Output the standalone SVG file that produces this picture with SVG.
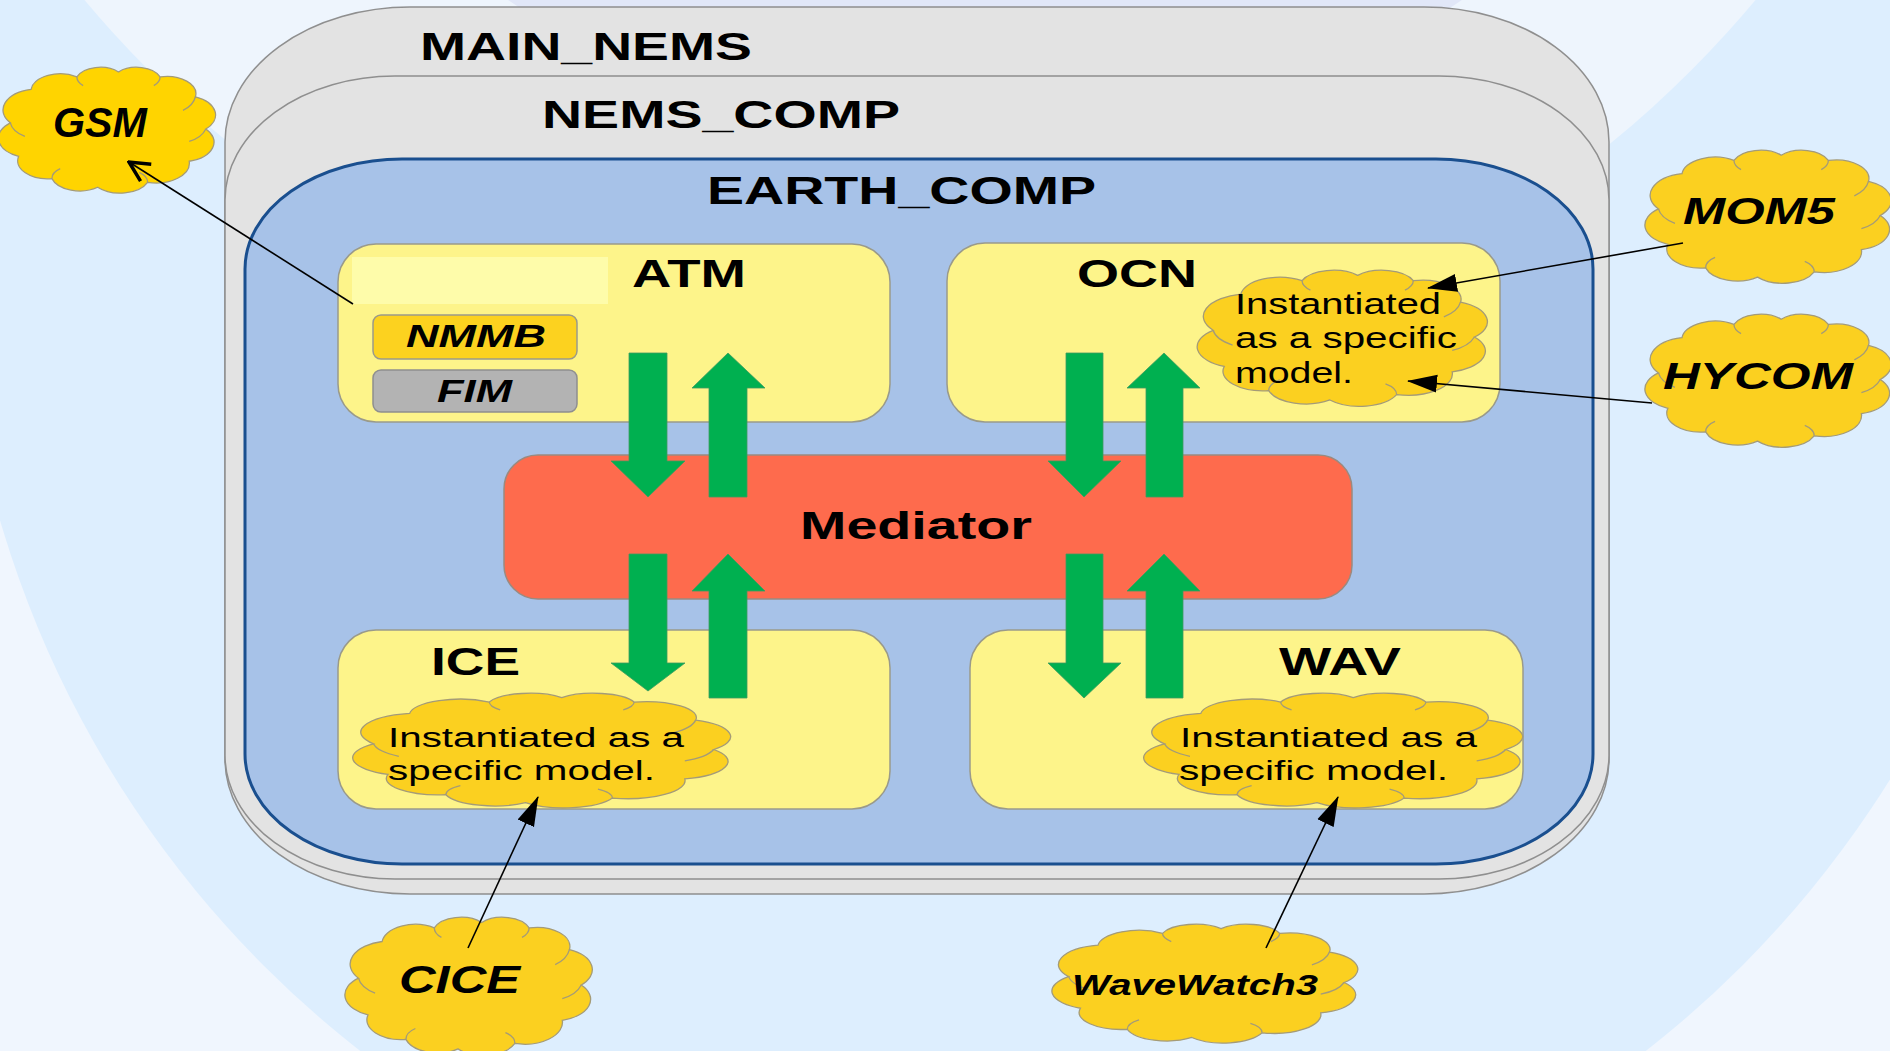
<svg xmlns="http://www.w3.org/2000/svg" xmlns:xlink="http://www.w3.org/1999/xlink" width="1890" height="1051" viewBox="0 0 1890 1051">
<style>
.lbl{font-family:"Liberation Sans",Arial,sans-serif;font-weight:bold;fill:#000}
.big{font-size:39px}
.it{font-style:italic}
.body{font-family:"Liberation Sans",Arial,sans-serif;font-weight:normal;fill:#000}
.cont{fill:#e3e3e3;stroke:#8f8f8f;stroke-width:1.5}
.box{fill:#fdf48a;stroke:#9a9a8a;stroke-width:1.5}
.cloud{fill:#fbd020;stroke:#a49b78;stroke-width:1.3}
.garrow{fill:#00b050;stroke:#3f9a5f;stroke-width:0.8}
.conn{stroke:#000;stroke-width:1.6;fill:none}
</style>
<defs>
<g id="cloudShape">
<path vector-effect="non-scaling-stroke" d="M4,45 A17,17 0 0 1 14,18 A14,14 0 0 1 36,8 A12,12 0 0 1 56,4 A12,12 0 0 1 76,8 A14,14 0 0 1 93,24 A16,16 0 0 1 98,50 A16,16 0 0 1 90,76 A16,16 0 0 1 70,93 A14.5,14.5 0 0 1 46,97 A14,14 0 0 1 24,90 A14.5,14.5 0 0 1 8,72 A16,16 0 0 1 4,45 Z"/>
<path vector-effect="non-scaling-stroke" fill="none" d="M4,45 Q5,52 11,56 M93,24 Q92,31 87,35 M98,50 Q96,57 90,60 M24,90 Q24,85 28,82 M70,93 Q70,88 66,85 M36,8 Q36,12 39,15 M76,8 Q76,12 73,15"/>
</g>
<marker id="tri" markerUnits="userSpaceOnUse" markerWidth="30" markerHeight="20" viewBox="0 0 30 20" refX="29" refY="10" orient="auto">
<path d="M0,1 L30,10 L0,19 Z" fill="#000"/>
</marker>
<marker id="vee" markerUnits="userSpaceOnUse" markerWidth="26" markerHeight="26" viewBox="0 0 26 26" refX="24" refY="13" orient="auto">
<path d="M4,3 L24,13 L4,23" fill="none" stroke="#000" stroke-width="3.5"/>
</marker>
</defs>

<g id="background">
<rect x="0" y="0" width="1890" height="1051" fill="#f0f6fe"/>
<circle cx="1003" cy="227" r="1045" fill="#ddeefe"/>
<circle cx="920" cy="-700" r="1090" fill="#eef5fd"/>
<circle cx="985" cy="-700" r="847" fill="#e1e7f8"/>
</g>

<g id="MAIN_NEMS">
<rect class="cont" x="225" y="7" width="1384" height="887" rx="185" ry="135"/>
<text class="lbl big" x="420" y="60" textLength="332" lengthAdjust="spacingAndGlyphs">MAIN_NEMS</text>
</g>

<g id="NEMS_COMP">
<rect class="cont" x="225" y="76" width="1384" height="803" rx="170" ry="124"/>
<text class="lbl big" x="542" y="128" textLength="358" lengthAdjust="spacingAndGlyphs">NEMS_COMP</text>
</g>

<g id="EARTH_COMP">
<rect x="245" y="159" width="1348" height="705" rx="157" ry="110" fill="#a7c2e8" stroke="#1a4f8f" stroke-width="3"/>
<text class="lbl big" x="707" y="204" textLength="389" lengthAdjust="spacingAndGlyphs">EARTH_COMP</text>
</g>

<g id="ATM">
<rect class="box" x="338" y="244" width="552" height="178" rx="38" ry="38"/>
<rect x="352" y="257" width="256" height="47" fill="#fefcaa"/>
<text class="lbl big" x="632" y="287" textLength="114" lengthAdjust="spacingAndGlyphs">ATM</text>
</g>

<g id="NMMB">
<rect x="373" y="315" width="204" height="44" rx="8" ry="8" fill="#fcd21f" stroke="#9a9a8a" stroke-width="1.5"/>
<text class="lbl it" font-size="31" x="406" y="347" textLength="140" lengthAdjust="spacingAndGlyphs">NMMB</text>
</g>

<g id="FIM">
<rect x="373" y="370" width="204" height="42" rx="8" ry="8" fill="#b3b3b3" stroke="#8f8f8f" stroke-width="1.5"/>
<text class="lbl it" font-size="31" x="437" y="402" textLength="75" lengthAdjust="spacingAndGlyphs">FIM</text>
</g>

<g id="OCN">
<rect class="box" x="947" y="243" width="553" height="179" rx="38" ry="38"/>
<text class="lbl big" x="1077" y="287" textLength="120" lengthAdjust="spacingAndGlyphs">OCN</text>
</g>

<g id="ICE">
<rect class="box" x="338" y="630" width="552" height="179" rx="38" ry="38"/>
<text class="lbl big" x="431" y="675" textLength="89" lengthAdjust="spacingAndGlyphs">ICE</text>
</g>

<g id="WAV">
<rect class="box" x="970" y="630" width="553" height="179" rx="38" ry="38"/>
<text class="lbl big" x="1279" y="675" textLength="122" lengthAdjust="spacingAndGlyphs">WAV</text>
</g>

<g id="Mediator">
<rect x="504" y="455" width="848" height="144" rx="34" ry="34" fill="#fe6b4d" stroke="#9a8a80" stroke-width="1.5"/>
<text class="lbl big" x="800" y="539" textLength="232" lengthAdjust="spacingAndGlyphs">Mediator</text>
</g>

<g id="OCN_model">
<use xlink:href="#cloudShape" class="cloud" transform="translate(1202,270) scale(2.78,1.34)"/>
<text class="body" font-size="29" x="1235" y="314" textLength="206" lengthAdjust="spacingAndGlyphs">Instantiated</text>
<text class="body" font-size="29" x="1235" y="348" textLength="222" lengthAdjust="spacingAndGlyphs">as a specific</text>
<text class="body" font-size="29" x="1235" y="383" textLength="118" lengthAdjust="spacingAndGlyphs">model.</text>
</g>

<g id="ICE_model">
<use xlink:href="#cloudShape" class="cloud" transform="translate(359,693) scale(3.62,1.13)"/>
<text class="body" font-size="27" x="388" y="747" textLength="296" lengthAdjust="spacingAndGlyphs">Instantiated as a</text>
<text class="body" font-size="27" x="388" y="780" textLength="267" lengthAdjust="spacingAndGlyphs">specific model.</text>
</g>

<g id="WAV_model">
<use xlink:href="#cloudShape" class="cloud" transform="translate(1150,693) scale(3.63,1.13)"/>
<text class="body" font-size="27" x="1180" y="747" textLength="297" lengthAdjust="spacingAndGlyphs">Instantiated as a</text>
<text class="body" font-size="27" x="1179" y="780" textLength="269" lengthAdjust="spacingAndGlyphs">specific model.</text>
</g>

<g id="GSM">
<use xlink:href="#cloudShape" class="cloud" style="fill:#ffd400" transform="translate(2,67) scale(2.08,1.24)"/>
<text class="lbl it" font-size="42" x="53" y="137" textLength="94" lengthAdjust="spacingAndGlyphs">GSM</text>
</g>

<g id="MOM5">
<use xlink:href="#cloudShape" class="cloud" transform="translate(1649,150) scale(2.36,1.31)"/>
<text class="lbl it" font-size="36" x="1683" y="224" textLength="152" lengthAdjust="spacingAndGlyphs">MOM5</text>
</g>

<g id="HYCOM">
<use xlink:href="#cloudShape" class="cloud" transform="translate(1649,314) scale(2.36,1.31)"/>
<text class="lbl it" font-size="36" x="1663" y="389" textLength="190" lengthAdjust="spacingAndGlyphs">HYCOM</text>
</g>

<g id="CICE">
<use xlink:href="#cloudShape" class="cloud" transform="translate(349,917) scale(2.37,1.36)"/>
<text class="lbl it" font-size="38" x="399" y="993" textLength="121" lengthAdjust="spacingAndGlyphs">CICE</text>
</g>

<g id="WaveWatch3">
<use xlink:href="#cloudShape" class="cloud" transform="translate(1057,924) scale(2.93,1.17)"/>
<text class="lbl it" font-size="29" x="1072" y="995" textLength="246" lengthAdjust="spacingAndGlyphs">WaveWatch3</text>
</g>

<g id="connectors">
<polygon class="garrow" points="629,353 667,353 667,461 685,461 648,497 611,461 629,461"/>
<polygon class="garrow" points="728,353 765,388 747,388 747,497 709,497 709,388 692,388"/>
<polygon class="garrow" points="629,554 667,554 667,663 685,663 648,691 611,663 629,663"/>
<polygon class="garrow" points="728,554 765,591 747,591 747,698 709,698 709,591 692,591"/>
<polygon class="garrow" points="1066,353 1103,353 1103,461 1121,461 1084,497 1048,461 1066,461"/>
<polygon class="garrow" points="1164,353 1200,388 1183,388 1183,497 1146,497 1146,388 1127,388"/>
<polygon class="garrow" points="1066,554 1103,554 1103,663 1121,663 1084,698 1048,663 1066,663"/>
<polygon class="garrow" points="1164,554 1200,591 1183,591 1183,698 1146,698 1146,591 1127,591"/>
<line class="conn" x1="353" y1="304" x2="129" y2="162" marker-end="url(#vee)"/>
<line class="conn" x1="1683" y1="243" x2="1428" y2="288" marker-end="url(#tri)"/>
<line class="conn" x1="1652" y1="403" x2="1408" y2="381" marker-end="url(#tri)"/>
<line class="conn" x1="468" y1="948" x2="538" y2="797" marker-end="url(#tri)"/>
<line class="conn" x1="1266" y1="948" x2="1338" y2="797" marker-end="url(#tri)"/>
</g>
</svg>
